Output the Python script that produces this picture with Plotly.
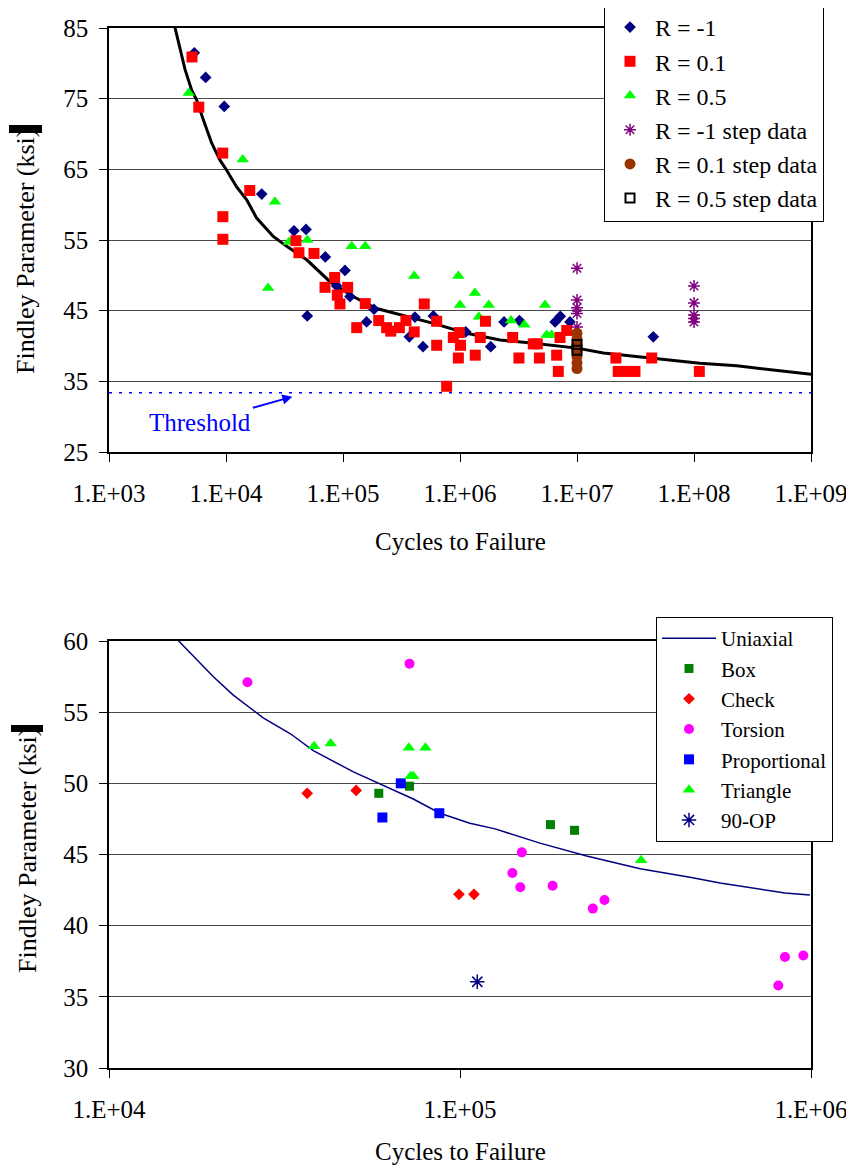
import numpy as np
import plotly.graph_objects as go

# ---------------- Top chart data ----------------
rm1_N = [5360, 6700, 9660, 20200, 38100, 48300, 70600, 49500, 104000, 88300, 114800,
         184000, 159000, 412000, 369000, 592000, 483000, 1.12e6, 1.83e6, 2.38e6,
         3.22e6, 6.5e6, 7.2e6, 8.71e6, 4.49e7]
rm1_F = [81.5, 78.0, 73.9, 61.5, 56.3, 56.5, 52.6, 44.25, 50.7, 48.5, 47.0,
         45.2, 43.4, 44.1, 41.3, 44.25, 39.9, 42.0, 39.9, 43.4,
         43.6, 43.4, 44.2, 43.4, 41.3]

r01_N = [5120, 5850, 9380, 15960, 9400, 9400, 39600, 42000, 56500, 84900, 70200, 109600,
         89400, 94200, 155000, 131000, 202000, 236000, 256000, 303000, 345000, 406000,
         495000, 632000, 632000, 769000, 877000, 987000, 1.01e6, 968000, 1.35e6, 1.49e6,
         1.65e6, 2.82e6, 3.19e6, 4.23e6, 4.58e6, 4.77e6, 6.7e6, 7.16e6, 8.17e6, 6.92e6,
         2.15e7, 2.25e7, 2.75e7, 3.13e7, 4.35e7, 1.11e8]
r01_F = [80.9, 73.8, 67.3, 62.0, 58.3, 55.1, 54.9, 53.2, 53.1, 49.7, 48.3, 48.3,
         47.2, 45.95, 46.0, 42.6, 43.6, 42.6, 42.1, 42.6, 43.6, 42.0,
         45.95, 43.5, 40.1, 34.3, 41.2, 41.9, 40.1, 38.3, 38.7, 41.2,
         43.5, 41.2, 38.3, 40.3, 40.3, 38.3, 38.7, 41.2, 42.2, 36.4,
         38.3, 36.4, 36.4, 36.4, 38.3, 36.4]

r05_N = [4800, 13900, 26200, 22900, 34500, 49500, 118600, 155000, 406000, 968000, 1.0e6,
         1.34e6, 1.45e6, 1.76e6, 2.73e6, 3.55e6, 5.33e6, 5.5e6, 6.07e6]
r05_F = [75.8, 66.4, 60.4, 48.2, 54.7, 55.0, 54.1, 54.1, 49.9, 49.9, 45.8,
         47.5, 44.15, 45.8, 43.6, 43.0, 45.8, 41.55, 41.55]

rm1_step_N = [1e7, 1e7, 1e7, 1e7, 1e7, 1e8, 1e8, 1e8, 1e8, 1e8]
rm1_step_F = [51.0, 46.5, 45.4, 44.6, 42.7, 48.5, 46.1, 44.4, 43.9, 43.4]

r01_step_N = [1e7, 1e7, 1e7, 1e7, 1e7, 1e7, 1e7]
r01_step_F = [41.8, 41.0, 40.2, 39.3, 38.5, 37.6, 36.8]

r05_step_N = [1e7, 1e7]
r05_step_F = [40.2, 39.4]

curve_N = [3550, 4050, 4470, 5090, 5620, 6400, 7550, 8890, 10100, 12330, 15030, 18280,
           25350, 33040, 48980, 77400, 122000, 194000, 307000, 592000, 1.14e6, 2.2e6,
           4.24e6, 1.0e7, 1.68e7, 3.24e7, 6.24e7, 1.12e8, 2.32e8, 6.19e8, 1.0e9]
curve_F = [86.0, 81.9, 79.1, 76.2, 74.8, 72.0, 68.7, 66.3, 64.9, 62.5, 60.7, 58.1,
           55.5, 54.1, 52.2, 49.1, 47.0, 45.3, 44.4, 43.2, 41.8, 40.85,
           40.4, 39.7, 39.0, 38.5, 38.0, 37.55, 37.2, 36.4, 36.0]

threshold = 33.4
top_xticks = [1e3, 1e4, 1e5, 1e6, 1e7, 1e8, 1e9]
top_xticklabels = ["1.E+03", "1.E+04", "1.E+05", "1.E+06", "1.E+07", "1.E+08", "1.E+09"]

# ---------------- Bottom chart data ----------------
uni_N = [15100, 19800, 22600, 27500, 32800, 38200, 49700, 67500, 73600, 87700, 106700,
         125900, 169000, 229600, 326000, 451900, 550800, 843000, 993000]
uni_F = [60.5, 57.5, 56.2, 54.6, 53.5, 52.3, 50.8, 49.3, 48.9, 47.9, 47.2,
         46.8, 45.8, 44.9, 44.0, 43.4, 43.0, 42.3, 42.15]

box_N = [58700, 71800, 181000, 212000]
box_F = [49.3, 49.8, 47.1, 46.7]

check_N = [36700, 50600, 99300, 109600]
check_F = [49.3, 49.5, 42.2, 42.2]

tors_N = [24800, 71800, 150000, 141000, 148500, 183600, 239000, 258000, 807000, 843000, 951000]
tors_F = [57.1, 58.4, 45.15, 43.7, 42.7, 42.8, 41.2, 41.8, 35.8, 37.8, 37.9]

prop_N = [60100, 67800, 87300]
prop_F = [47.6, 50.0, 47.9]

tri_N = [38400, 42800, 71500, 79700, 72300, 73600, 328000]
tri_F = [52.6, 52.8, 52.5, 52.5, 50.5, 50.5, 44.6]

op90_N = [112000]
op90_F = [36.06]

bot_xticks = [1e4, 1e5, 1e6]
bot_xticklabels = ["1.E+04", "1.E+05", "1.E+06"]

FONT = "Liberation Serif, Times New Roman, serif"
OFF = 8              # page body margin of the html page
W, H = 854 - OFF, 1168 - OFF


def px(x):
    return (x - OFF) / W


def py(y):
    return 1 - (y - OFF) / H


fig = go.Figure()

# ---- top traces ----
fig.add_trace(go.Scatter(x=[1e3, 1e9], y=[threshold, threshold], mode="lines",
                         line=dict(color="#0000ff", width=1.5, dash="3px,7px"),
                         showlegend=False, xaxis="x", yaxis="y", hoverinfo="skip"))
fig.add_trace(go.Scatter(x=curve_N, y=curve_F, mode="lines",
                         line=dict(color="black", width=3),
                         showlegend=False, xaxis="x", yaxis="y"))
fig.add_trace(go.Scatter(x=rm1_N, y=rm1_F, mode="markers", name="R = -1",
                         marker=dict(symbol="diamond", size=9, color="#000080"),
                         legendrank=1, xaxis="x", yaxis="y", legend="legend"))
fig.add_trace(go.Scatter(x=r05_N, y=r05_F, mode="markers", name="R = 0.5",
                         marker=dict(symbol="triangle-up", size=11, color="#00ff00"),
                         legendrank=3, xaxis="x", yaxis="y", legend="legend"))
fig.add_trace(go.Scatter(x=r01_N, y=r01_F, mode="markers", name="R = 0.1",
                         marker=dict(symbol="square", size=11, color="#ff0000"),
                         legendrank=2, xaxis="x", yaxis="y", legend="legend"))
fig.add_trace(go.Scatter(x=rm1_step_N, y=rm1_step_F, mode="markers", name="R = -1 step data",
                         marker=dict(symbol="asterisk-open", size=10, color="#800080",
                                     line=dict(color="#800080", width=1.5)),
                         legendrank=4, xaxis="x", yaxis="y", legend="legend"))
fig.add_trace(go.Scatter(x=r01_step_N, y=r01_step_F, mode="markers", name="R = 0.1 step data",
                         marker=dict(symbol="circle", size=11, color="#993300"),
                         legendrank=5, xaxis="x", yaxis="y", legend="legend"))
fig.add_trace(go.Scatter(x=r05_step_N, y=r05_step_F, mode="markers", name="R = 0.5 step data",
                         marker=dict(symbol="square-open", size=9, color="black",
                                     line=dict(color="black", width=2)),
                         legendrank=6, xaxis="x", yaxis="y", legend="legend"))

# ---- bottom traces ----
fig.add_trace(go.Scatter(x=uni_N, y=uni_F, mode="lines", name="Uniaxial",
                         line=dict(color="#000080", width=1.5),
                         legendrank=1, xaxis="x2", yaxis="y2", legend="legend2"))
fig.add_trace(go.Scatter(x=box_N, y=box_F, mode="markers", name="Box",
                         marker=dict(symbol="square", size=9, color="#008000"),
                         legendrank=2, xaxis="x2", yaxis="y2", legend="legend2"))
fig.add_trace(go.Scatter(x=check_N, y=check_F, mode="markers", name="Check",
                         marker=dict(symbol="diamond", size=9, color="#ff0000"),
                         legendrank=3, xaxis="x2", yaxis="y2", legend="legend2"))
fig.add_trace(go.Scatter(x=tors_N, y=tors_F, mode="markers", name="Torsion",
                         marker=dict(symbol="circle", size=10, color="#ff00ff"),
                         legendrank=4, xaxis="x2", yaxis="y2", legend="legend2"))
fig.add_trace(go.Scatter(x=prop_N, y=prop_F, mode="markers", name="Proportional",
                         marker=dict(symbol="square", size=10, color="#0000ff"),
                         legendrank=5, xaxis="x2", yaxis="y2", legend="legend2"))
fig.add_trace(go.Scatter(x=tri_N, y=tri_F, mode="markers", name="Triangle",
                         marker=dict(symbol="triangle-up", size=11, color="#00ff00"),
                         legendrank=6, xaxis="x2", yaxis="y2", legend="legend2"))
fig.add_trace(go.Scatter(x=op90_N, y=op90_F, mode="markers", name="90-OP",
                         marker=dict(symbol="asterisk-open", size=12, color="#000080",
                                     line=dict(color="#000080", width=1.5)),
                         legendrank=7, xaxis="x2", yaxis="y2", legend="legend2"))

xd = [px(109), px(811)]
axis_common = dict(showline=True, linecolor="black", linewidth=1.5, mirror=True,
                   ticks="outside", ticklen=8, tickcolor="black", tickwidth=1,
                   automargin=False,
                   tickfont=dict(family=FONT, size=25, color="black"))

fig.update_layout(
    width=W, height=H, autosize=False,
    margin=dict(l=0, r=0, t=0, b=0, autoexpand=False),
    paper_bgcolor="white", plot_bgcolor="white",
    font=dict(family=FONT, size=25, color="black"),
    xaxis=dict(type="log", domain=xd, anchor="y", range=[3, 9],
               tickvals=top_xticks, ticktext=top_xticklabels, showgrid=False,
               ticklabelstandoff=10, **axis_common),
    yaxis=dict(domain=[py(452), py(28)], anchor="x", range=[25, 85],
               tick0=25, dtick=10, showgrid=True, gridcolor="#4a4a4a", gridwidth=1,
               zeroline=False, ticklabelstandoff=6, **axis_common),
    xaxis2=dict(type="log", domain=xd, anchor="y2", range=[4, 6],
                tickvals=bot_xticks, ticktext=bot_xticklabels, showgrid=False,
                ticklabelstandoff=10, **axis_common),
    yaxis2=dict(domain=[py(1068), py(641)], anchor="x2", range=[30, 60],
                tick0=30, dtick=5, showgrid=True, gridcolor="#4a4a4a", gridwidth=1,
                zeroline=False, ticklabelstandoff=6, **axis_common),
    legend=dict(x=px(604), y=py(4), xanchor="left", yanchor="top",
                bgcolor="white", bordercolor="black", borderwidth=1,
                font=dict(family=FONT, size=24, color="black"), itemwidth=40),
    legend2=dict(x=px(656), y=py(617), xanchor="left", yanchor="top",
                 bgcolor="white", bordercolor="black", borderwidth=1,
                 font=dict(family=FONT, size=21, color="black"), itemwidth=54),
    showlegend=True,
)

# Axis titles and threshold label
fig.add_annotation(text="Findley Parameter (ksi)", textangle=-90, xref="paper", yref="paper",
                   x=px(25), y=py(251), xanchor="center", yanchor="middle",
                   showarrow=False, font=dict(family=FONT, size=26, color="black"))
fig.add_annotation(text="Findley Parameter (ksi)", textangle=-90, xref="paper", yref="paper",
                   x=px(27), y=py(850), xanchor="center", yanchor="middle",
                   showarrow=False, font=dict(family=FONT, size=26, color="black"))
fig.add_annotation(text="Cycles to Failure", xref="paper", yref="paper",
                   x=px(460), y=py(541), xanchor="center", yanchor="middle",
                   showarrow=False, font=dict(family=FONT, size=25, color="black"))
fig.add_annotation(text="Cycles to Failure", xref="paper", yref="paper",
                   x=px(460), y=py(1151), xanchor="center", yanchor="middle",
                   showarrow=False, font=dict(family=FONT, size=25, color="black"))
fig.add_annotation(text="Threshold", xref="x", yref="y",
                   x=4.567, y=32.83, ax=-92, ay=26,
                   showarrow=True, arrowhead=2, arrowsize=1, arrowwidth=2,
                   arrowcolor="#0000ff", font=dict(family=FONT, size=25, color="#0000ff"))

# black bars over end of y titles
fig.add_shape(type="rect", xref="paper", yref="paper", x0=px(9), x1=px(42),
              y0=py(133), y1=py(125), fillcolor="black", line=dict(width=0))
fig.add_shape(type="rect", xref="paper", yref="paper", x0=px(11), x1=px(43),
              y0=py(732), y1=py(725), fillcolor="black", line=dict(width=0))

fig.write_html("out.html")
